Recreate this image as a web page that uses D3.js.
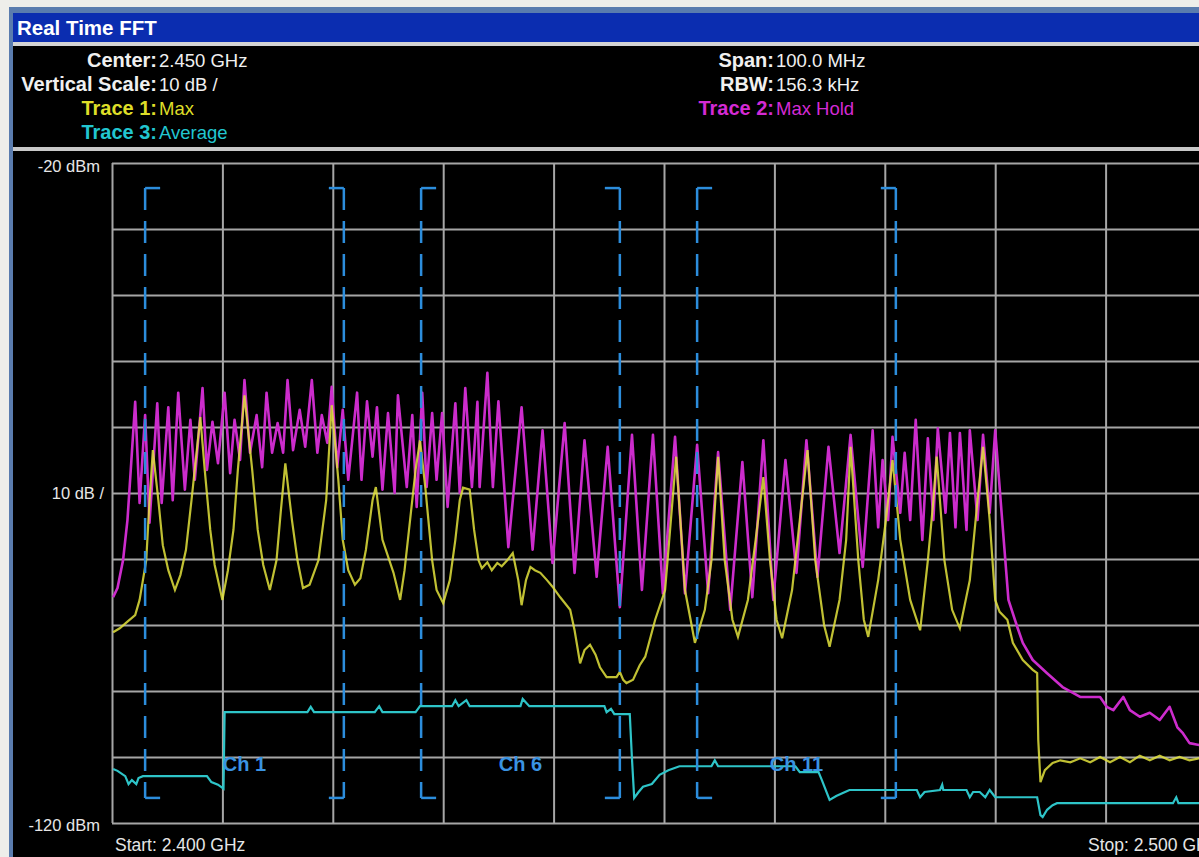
<!DOCTYPE html>
<html>
<head>
<meta charset="utf-8">
<script src="https://cdn.jsdelivr.net/npm/d3@7"></script>
<style>
body { margin: 0; background: #eeeeea; overflow: hidden; }
svg { display: block; font-family: "Liberation Sans", Arial, sans-serif; }
</style>
</head>
<body>
<script>

// frequency = MHz above 2.400 GHz, level = dBm

// Trace 2 : Max Hold (magenta)
var maxHoldFreq = [0.1,0.5,1.0,1.4,1.7,2.1,2.5,3.0,3.4,4.1,4.5,5.1,5.5,6.0,6.6,7.1,7.5,8.2,8.6,9.1,9.6,10.2,10.7,11.1,11.6,12.0,12.5,13.1,13.6,14.0,14.5,15.0,15.5,15.9,16.4,17.0,17.5,18.1,18.6,19.0,19.5,19.9,20.4,20.9,21.4,22.2,22.6,23.1,23.6,24.0,24.5,25.0,25.6,25.9,26.7,27.2,27.6,28.1,28.5,29.0,29.4,29.9,30.4,31.1,31.5,32.0,32.6,33.1,33.3,34.0,34.5,35.0,35.9,37.1,38.1,39.0,39.9,41.0,41.9,42.8,43.9,44.9,46.0,47.1,48.0,49.0,49.9,51.0,51.9,53.0,54.0,54.9,56.0,57.1,58.0,59.0,59.9,61.0,62.0,62.9,63.9,64.9,65.9,66.9,68.0,68.9,69.4,69.8,70.3,70.7,71.4,71.8,72.3,72.8,73.4,73.9,74.4,74.8,75.5,75.9,76.4,76.8,77.4,77.7,78.4,78.9,79.5,80.0,80.7,81.2,82.0,82.5,83.4,84.7,86.1,87.7,89.5,90.1,90.7,91.6,92.2,93.1,94.0,94.9,95.8,96.5,97.0,97.6,98.5,99.2,100.0];
var maxHoldLevel = [-85.8,-84.4,-80.2,-74.1,-66.5,-56.2,-71.5,-58.2,-74.5,-56.4,-71.5,-57.0,-71.1,-54.8,-69.5,-58.9,-68.0,-54.1,-66.5,-59.2,-65.5,-54.8,-67.0,-58.9,-65.0,-52.9,-63.9,-58.2,-66.1,-54.8,-63.9,-59.4,-63.9,-52.9,-63.5,-57.4,-63.0,-52.9,-63.9,-58.2,-62.4,-53.9,-66.1,-57.4,-68.0,-54.8,-68.0,-56.1,-64.5,-57.0,-69.5,-57.9,-70.0,-55.2,-69.1,-58.2,-72.1,-54.8,-69.1,-57.9,-68.0,-57.9,-72.1,-56.4,-70.0,-54.1,-69.1,-56.2,-69.1,-51.8,-69.1,-56.1,-78.2,-57.0,-78.6,-60.5,-80.6,-59.4,-82.1,-62.0,-82.7,-63.0,-87.3,-61.2,-84.7,-61.2,-85.2,-61.5,-85.2,-62.7,-85.2,-63.8,-87.7,-65.3,-85.8,-62.0,-86.2,-65.0,-82.1,-62.0,-82.7,-63.0,-79.1,-61.2,-81.2,-60.5,-75.2,-65.0,-74.1,-61.5,-73.0,-63.9,-74.1,-58.9,-77.1,-61.7,-74.1,-60.2,-73.0,-60.9,-75.2,-60.9,-75.6,-60.5,-74.1,-61.2,-73.0,-60.5,-75.6,-86.2,-90.3,-92.7,-95.3,-97.3,-99.4,-100.9,-100.9,-102.4,-102.9,-100.9,-102.9,-103.9,-103.3,-104.4,-102.4,-105.5,-106.4,-107.9,-108.2,-106.0,-108.5];

// Trace 1 : Max (yellow)
var maxFreq = [0.1,0.7,1.4,2.1,2.5,3.1,3.4,3.7,4.2,4.6,5.1,5.7,6.2,6.7,7.2,8.0,8.4,8.9,9.3,10.0,10.5,11.0,11.4,12.0,12.7,13.2,13.7,14.3,14.9,15.3,15.7,16.3,16.8,17.3,17.9,18.7,19.4,19.9,20.5,20.9,21.4,22.0,22.5,23.0,23.6,23.9,24.5,25.5,26.1,26.5,27.0,27.5,27.9,28.4,29.0,29.4,30.0,30.6,31.1,31.5,31.8,32.4,32.8,33.2,33.5,34.0,34.4,34.9,35.3,35.8,36.3,36.8,37.1,37.5,37.9,38.3,38.8,39.4,39.9,40.6,41.5,41.9,42.4,42.8,43.3,43.8,44.2,44.8,45.7,46.0,46.3,46.6,47.2,47.8,48.3,49.2,50.1,51.1,51.9,52.8,53.7,54.3,54.9,55.5,56.2,56.7,57.6,58.3,59.0,59.6,60.2,60.7,61.6,62.3,63.0,63.7,64.5,65.0,65.9,66.5,66.9,67.6,68.1,68.5,69.4,70.1,70.7,71.4,72.3,73.2,73.9,74.4,74.7,75.4,76.1,76.8,77.7,78.4,78.9,79.5,80.0,80.4,81.1,81.6,82.5,83.4,83.8,83.9,84.1,84.5,85.2,85.9,86.8,87.7,88.6,89.5,90.4,91.3,92.2,93.1,94.0,94.9,95.8,96.7,97.6,98.5,100.0];
var maxLevel = [-91.1,-90.5,-89.5,-88.5,-86.2,-80.2,-71.1,-63.5,-71.1,-77.9,-81.7,-84.7,-82.4,-78.6,-71.1,-58.5,-66.5,-75.6,-80.9,-86.2,-81.7,-75.6,-66.5,-55.2,-66.5,-75.6,-80.9,-84.7,-80.2,-72.6,-65.5,-74.1,-80.2,-84.4,-83.9,-80.2,-71.1,-56.7,-68.0,-77.1,-81.7,-83.9,-82.9,-78.6,-71.1,-69.1,-77.1,-82.1,-86.2,-81.7,-74.1,-66.5,-62.0,-69.5,-80.2,-84.7,-86.7,-83.2,-77.1,-71.1,-69.2,-69.5,-75.6,-80.2,-81.4,-80.5,-81.7,-80.6,-81.1,-80.2,-79.1,-83.2,-87.0,-83.2,-81.2,-81.7,-82.1,-83.2,-84.2,-85.8,-87.7,-90.8,-95.8,-93.8,-93.0,-94.5,-96.4,-97.9,-97.9,-97.1,-98.3,-98.8,-98.3,-96.1,-94.8,-89.2,-84.7,-64.5,-84.7,-92.7,-87.7,-80.2,-64.5,-80.2,-89.2,-91.8,-86.2,-77.1,-67.6,-80.2,-89.2,-92.0,-84.7,-74.1,-63.5,-80.2,-90.0,-93.3,-86.2,-77.1,-63.0,-80.2,-89.2,-91.8,-83.2,-74.1,-65.0,-77.1,-86.2,-90.8,-80.2,-71.1,-64.5,-80.2,-87.7,-90.5,-83.2,-71.1,-63.0,-74.1,-86.2,-88.0,-89.2,-92.7,-95.3,-96.8,-97.3,-107.4,-113.8,-112.0,-110.9,-110.5,-110.8,-110.2,-110.8,-110.0,-110.8,-110.0,-110.8,-109.8,-110.5,-109.8,-110.5,-110.0,-110.5,-110.2,-110.4];

// Trace 3 : Average (cyan)
var avgFreq = [0.1,0.5,1.2,1.5,1.8,2.2,2.4,2.8,8.6,9.0,9.6,10.1,10.2,17.7,18.0,18.3,23.8,24.2,24.5,27.5,27.9,30.8,31.1,31.4,32.1,32.4,37.0,37.2,37.8,44.6,44.8,45.2,45.5,46.9,47.1,47.3,47.7,48.1,48.9,49.6,50.4,51.4,54.3,54.6,54.9,61.9,62.3,64.0,64.3,65.0,65.6,66.4,66.8,72.9,73.2,73.6,75.0,75.2,75.3,77.4,77.7,78.0,78.6,79.1,79.5,80.0,83.8,84.1,84.3,84.7,85.2,85.6,96.1,96.4,96.6,100.0];
var avgLevel = [-111.8,-112.1,-112.9,-114.1,-113.5,-114.1,-113.2,-112.9,-112.9,-113.8,-114.2,-114.8,-103.2,-103.2,-102.4,-103.2,-103.2,-102.3,-103.2,-103.2,-102.3,-102.3,-101.4,-102.3,-101.4,-102.3,-102.3,-101.2,-102.3,-102.3,-103.2,-102.7,-103.5,-103.5,-110.3,-116.2,-115.3,-114.5,-114.1,-112.7,-112.0,-111.4,-111.4,-110.5,-111.4,-111.4,-112.3,-112.3,-113.5,-116.5,-115.9,-115.3,-115.0,-115.0,-116.1,-115.3,-115.0,-114.2,-115.0,-115.0,-116.1,-115.3,-115.3,-116.1,-115.0,-116.1,-116.1,-118.8,-119.1,-118.0,-117.3,-117.0,-117.0,-116.1,-117.0,-117.0];

// WiFi channel markers
var channelNames = ["Ch 1", "Ch 6", "Ch 11"];
var channelCenters = [12, 37, 62];
var channelHalfWidth = 9;
var markerLevels = [-23.8, -116.2];

var freqTicks = [0, 10, 20, 30, 40, 50, 60, 70, 80, 90, 100];
var levelTicks = [-120, -110, -100, -90, -80, -70, -60, -50, -40, -30, -20];

var headerLeftLabels = ["Center:", "Vertical Scale:", "Trace 1:", "Trace 3:"];
var headerLeftValues = ["2.450 GHz", "10 dB /", "Max", "Average"];
var headerLeftColors = ["#f0f0f0", "#f0f0f0", "#dede28", "#22c6d0"];
var headerRightLabels = ["Span:", "RBW:", "Trace 2:"];
var headerRightValues = ["100.0 MHz", "156.3 kHz", "Max Hold"];
var headerRightColors = ["#f0f0f0", "#f0f0f0", "#d42ad4"];

var width = 1199;
var height = 857;
var plotLeft = 112;
var plotTop = 163;
var divW = 110.4;
var divH = 66;

var x = d3.scaleLinear().domain([0, 100]).range([plotLeft, plotLeft + divW * 10]);
var y = d3.scaleLinear().domain([-120, -20]).range([plotTop + divH * 10, plotTop]);

var svg = d3.select("body").append("svg")
    .attr("width", width)
    .attr("height", height);

// window frame
svg.append("rect").attr("x", 0).attr("y", 0).attr("width", width).attr("height", height).attr("fill", "#eeeeea");
svg.append("rect").attr("x", 9).attr("y", 7).attr("width", width).attr("height", height).attr("fill", "#5a7cae");
svg.append("rect").attr("x", 13).attr("y", 13).attr("width", width).attr("height", 29).attr("fill", "#0b2db0");
svg.append("rect").attr("x", 13).attr("y", 42).attr("width", width).attr("height", 4).attr("fill", "#d4d4d4");
svg.append("rect").attr("x", 13).attr("y", 46).attr("width", width).attr("height", 101).attr("fill", "#000");
svg.append("rect").attr("x", 13).attr("y", 147).attr("width", width).attr("height", 4).attr("fill", "#c8c8c8");
svg.append("rect").attr("x", 13).attr("y", 151).attr("width", width).attr("height", height).attr("fill", "#000");

svg.append("text")
    .attr("x", 17)
    .attr("y", 35)
    .attr("fill", "#ffffff")
    .attr("font-size", 20.5)
    .attr("font-weight", "bold")
    .text("Real Time FFT");

// header block
function headerRow(label, value, color, xColon, yBase) {
    svg.append("text")
        .attr("x", xColon)
        .attr("y", yBase)
        .attr("text-anchor", "end")
        .attr("fill", color)
        .attr("font-size", 20)
        .attr("font-weight", "bold")
        .text(label);
    svg.append("text")
        .attr("x", xColon + 2)
        .attr("y", yBase)
        .attr("fill", color)
        .attr("font-size", 18.5)
        .text(value);
}

for (var i = 0; i < headerLeftLabels.length; i++) {
    headerRow(headerLeftLabels[i], headerLeftValues[i], headerLeftColors[i], 157, 67 + i * 24);
}
for (var j = 0; j < headerRightLabels.length; j++) {
    headerRow(headerRightLabels[j], headerRightValues[j], headerRightColors[j], 774, 67 + j * 24);
}

// grid
var gx = svg.append("g")
    .attr("transform", "translate(0," + y(-120) + ")")
    .call(d3.axisBottom(x).tickValues(freqTicks).tickSize(-divH * 10).tickFormat(""));
var gy = svg.append("g")
    .attr("transform", "translate(" + x(0) + ",0)")
    .call(d3.axisLeft(y).tickValues(levelTicks).tickSize(-divW * 10).tickFormat(""));
gx.select(".domain").remove();
gy.select(".domain").remove();
svg.selectAll(".tick line").attr("stroke", "#a6a6a6").attr("stroke-width", 2);

// scale labels
var labelColor = "#e6e6e6";
svg.append("text").attr("x", 100).attr("y", y(-20) + 9).attr("text-anchor", "end")
    .attr("fill", labelColor).attr("font-size", 16.5).text("-20 dBm");
svg.append("text").attr("x", 104).attr("y", y(-70) + 6).attr("text-anchor", "end")
    .attr("fill", labelColor).attr("font-size", 16.5).text("10 dB /");
svg.append("text").attr("x", 100).attr("y", y(-120) + 8).attr("text-anchor", "end")
    .attr("fill", labelColor).attr("font-size", 16.5).text("-120 dBm");
svg.append("text").attr("x", 115).attr("y", 851)
    .attr("fill", labelColor).attr("font-size", 17.5).text("Start: 2.400 GHz");
svg.append("text").attr("x", 1088).attr("y", 851)
    .attr("fill", labelColor).attr("font-size", 17.5).text("Stop: 2.500 GHz");

// traces
svg.append("clipPath").attr("id", "plotClip")
    .append("rect")
    .attr("x", x(0)).attr("y", y(-20))
    .attr("width", x(100) - x(0)).attr("height", y(-120) - y(-20));

var line = d3.line()
    .x(function(d) { return x(d[0]); })
    .y(function(d) { return y(d[1]); });

var traces = svg.append("g").attr("clip-path", "url(#plotClip)");

traces.append("path")
    .datum(d3.zip(avgFreq, avgLevel))
    .attr("d", line)
    .attr("fill", "none")
    .attr("stroke", "#2ec4c8")
    .attr("stroke-width", 2.2);

traces.append("path")
    .datum(d3.zip(maxHoldFreq, maxHoldLevel))
    .attr("d", line)
    .attr("fill", "none")
    .attr("stroke", "#cc2ccc")
    .attr("stroke-linejoin", "round")
    .attr("stroke-width", 2.6);

traces.append("path")
    .datum(d3.zip(maxFreq, maxLevel))
    .attr("d", line)
    .attr("fill", "none")
    .attr("stroke", "#e2e23c")
    .attr("stroke-opacity", 0.85)
    .attr("stroke-width", 2.2);

// channel brackets
var chColor = "#2c8ddc";
var hook = 15;
channelCenters.forEach(function(c, k) {
    var xl = x(c - channelHalfWidth);
    var xr = x(c + channelHalfWidth);
    var yt = y(markerLevels[0]);
    var yb = y(markerLevels[1]);
    var g = svg.append("g")
        .attr("stroke", chColor)
        .attr("stroke-width", 2.5)
        .attr("fill", "none");
    [xl, xr].forEach(function(xv, side) {
        var dir = side == 0 ? 1 : -1;
        g.append("line").attr("x1", xv).attr("x2", xv).attr("y1", yt).attr("y2", yb)
            .attr("stroke-dasharray", "22,11");
        g.append("line").attr("x1", xv).attr("x2", xv + dir * hook).attr("y1", yt).attr("y2", yt);
        g.append("line").attr("x1", xv).attr("x2", xv + dir * hook).attr("y1", yb).attr("y2", yb);
    });
    svg.append("text")
        .attr("x", x(c))
        .attr("y", y(-110) + 14)
        .attr("text-anchor", "middle")
        .attr("fill", "#3a93e2")
        .attr("font-size", 20)
        .attr("font-weight", "bold")
        .text(channelNames[k]);
});

</script>
</body>
</html>
